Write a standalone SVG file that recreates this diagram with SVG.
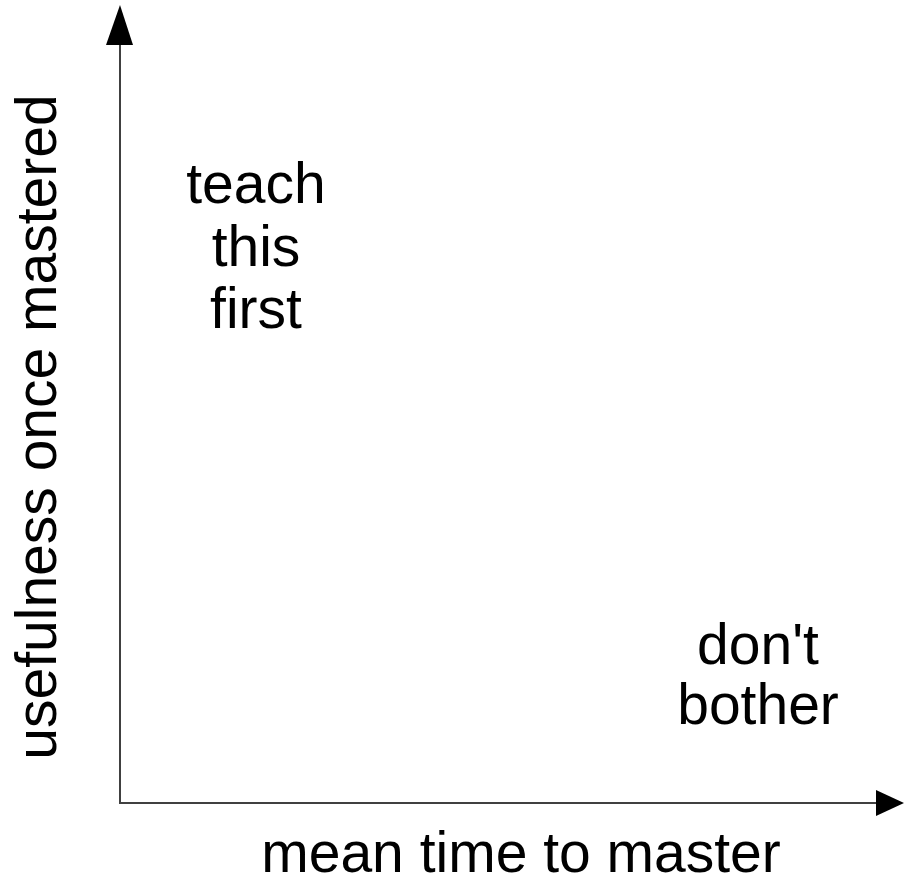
<svg xmlns="http://www.w3.org/2000/svg" width="904" height="883" viewBox="0 0 904 883">
<style>
.lbl{font-family:"Liberation Sans",Arial,sans-serif;font-size:57px;fill:#000;text-anchor:middle}
.axis{stroke:#404040;stroke-width:2;fill:none}
</style>
<rect width="904" height="883" fill="#fff"/>
<g id="connectors">
<line class="axis" x1="120" y1="44" x2="120" y2="803"/>
<line class="axis" x1="119" y1="803" x2="877" y2="803"/>
<polygon points="120,5 106,45 133,45" fill="#000"/>
<polygon points="904,803 876,790 876,816" fill="#000"/>
</g>
<g id="y-label"><text class="lbl" transform="translate(56,427) rotate(-90)">usefulness once mastered</text></g>
<g id="x-label"><text class="lbl" x="521" y="872">mean time to master</text></g>
<g id="teach-this-first"><text class="lbl"><tspan x="256" y="203">teach</tspan><tspan x="256" y="266">this</tspan><tspan x="256" y="328">first</tspan></text></g>
<g id="dont-bother"><text class="lbl"><tspan x="758" y="664">don't</tspan><tspan x="758" y="724">bother</tspan></text></g>
</svg>
